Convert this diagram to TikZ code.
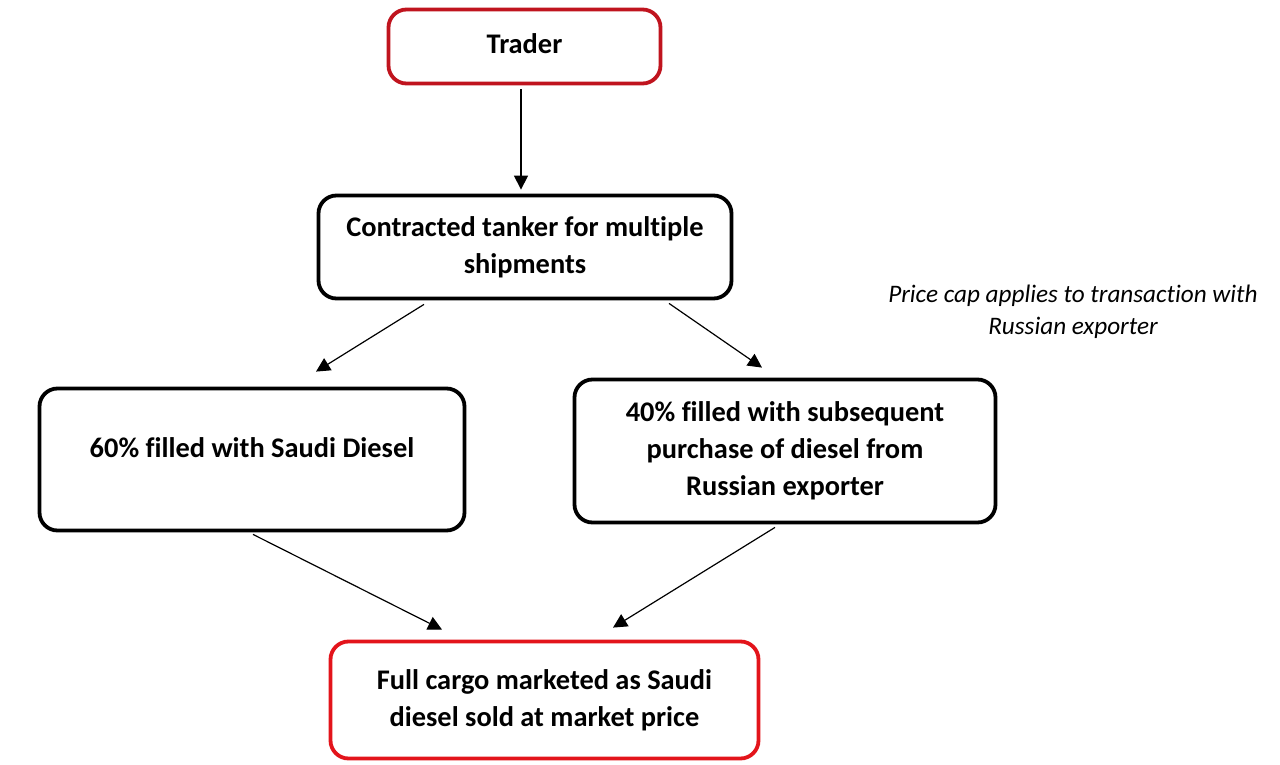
\documentclass[tikz,border=0pt]{standalone}
\usepackage{fontspec}
\setmainfont{Carlito}[Ligatures=NoCommon]
\usetikzlibrary{arrows.meta,calc}
\definecolor{darkred}{HTML}{C0141E}
\definecolor{brightred}{HTML}{E3141B}
\begin{document}
\begin{tikzpicture}[x=1pt,y=-1pt,
  box/.style={draw=black, line width=3.8pt, rounded corners=18pt, align=center,
    font=\fontsize{28.4}{37}\selectfont\bfseries, inner sep=0pt},
  conn/.style={line width=1.2pt, -{Triangle[length=14pt,width=14pt]}},
  notetext/.style={align=center, font=\fontsize{25.2}{32}\selectfont\itshape, inner sep=0pt}]
\useasboundingbox[fill=white] (0,0) rectangle (1280,765);
\node[box, draw=darkred, minimum width=272pt, minimum height=74pt, text depth=6pt] (trader) at (524.5,46.5) {Trader};
\node[box, minimum width=413pt, minimum height=103pt] (contracted) at (525,247) {Contracted tanker for multiple\\shipments};
\node[box, minimum width=425pt, minimum height=142pt, text depth=23pt] (saudi) at (252,459.5) {60\% filled with Saudi Diesel};
\node[box, minimum width=421pt, minimum height=143pt] (russian) at (785,451) {40\% filled with subsequent\\purchase of diesel from\\Russian exporter};
\node[box, draw=brightred, minimum width=428pt, minimum height=117pt] (full) at (544.5,700) {Full cargo marketed as Saudi\\diesel sold at market price};
\node[notetext] (note) at (1073,312) {Price cap applies to transaction with\\Russian exporter};
\draw[conn] ($(trader.south)+(-3.5,4)$) -- ($(contracted.north)+(-4,-4)$);
\draw[conn] ($(contracted.south)+(-101,4)$) -- ($(saudi.north)+(64,-15)$);
\draw[conn] ($(contracted.south)+(144,3)$) -- ($(russian.north)+(-23,-10)$);
\draw[conn] ($(saudi.south)+(1,2)$) -- ($(full.north)+(-102.5,-10)$);
\draw[conn] ($(russian.south)+(-10,3)$) -- ($(full.north)+(68.5,-12)$);
\end{tikzpicture}
\end{document}
